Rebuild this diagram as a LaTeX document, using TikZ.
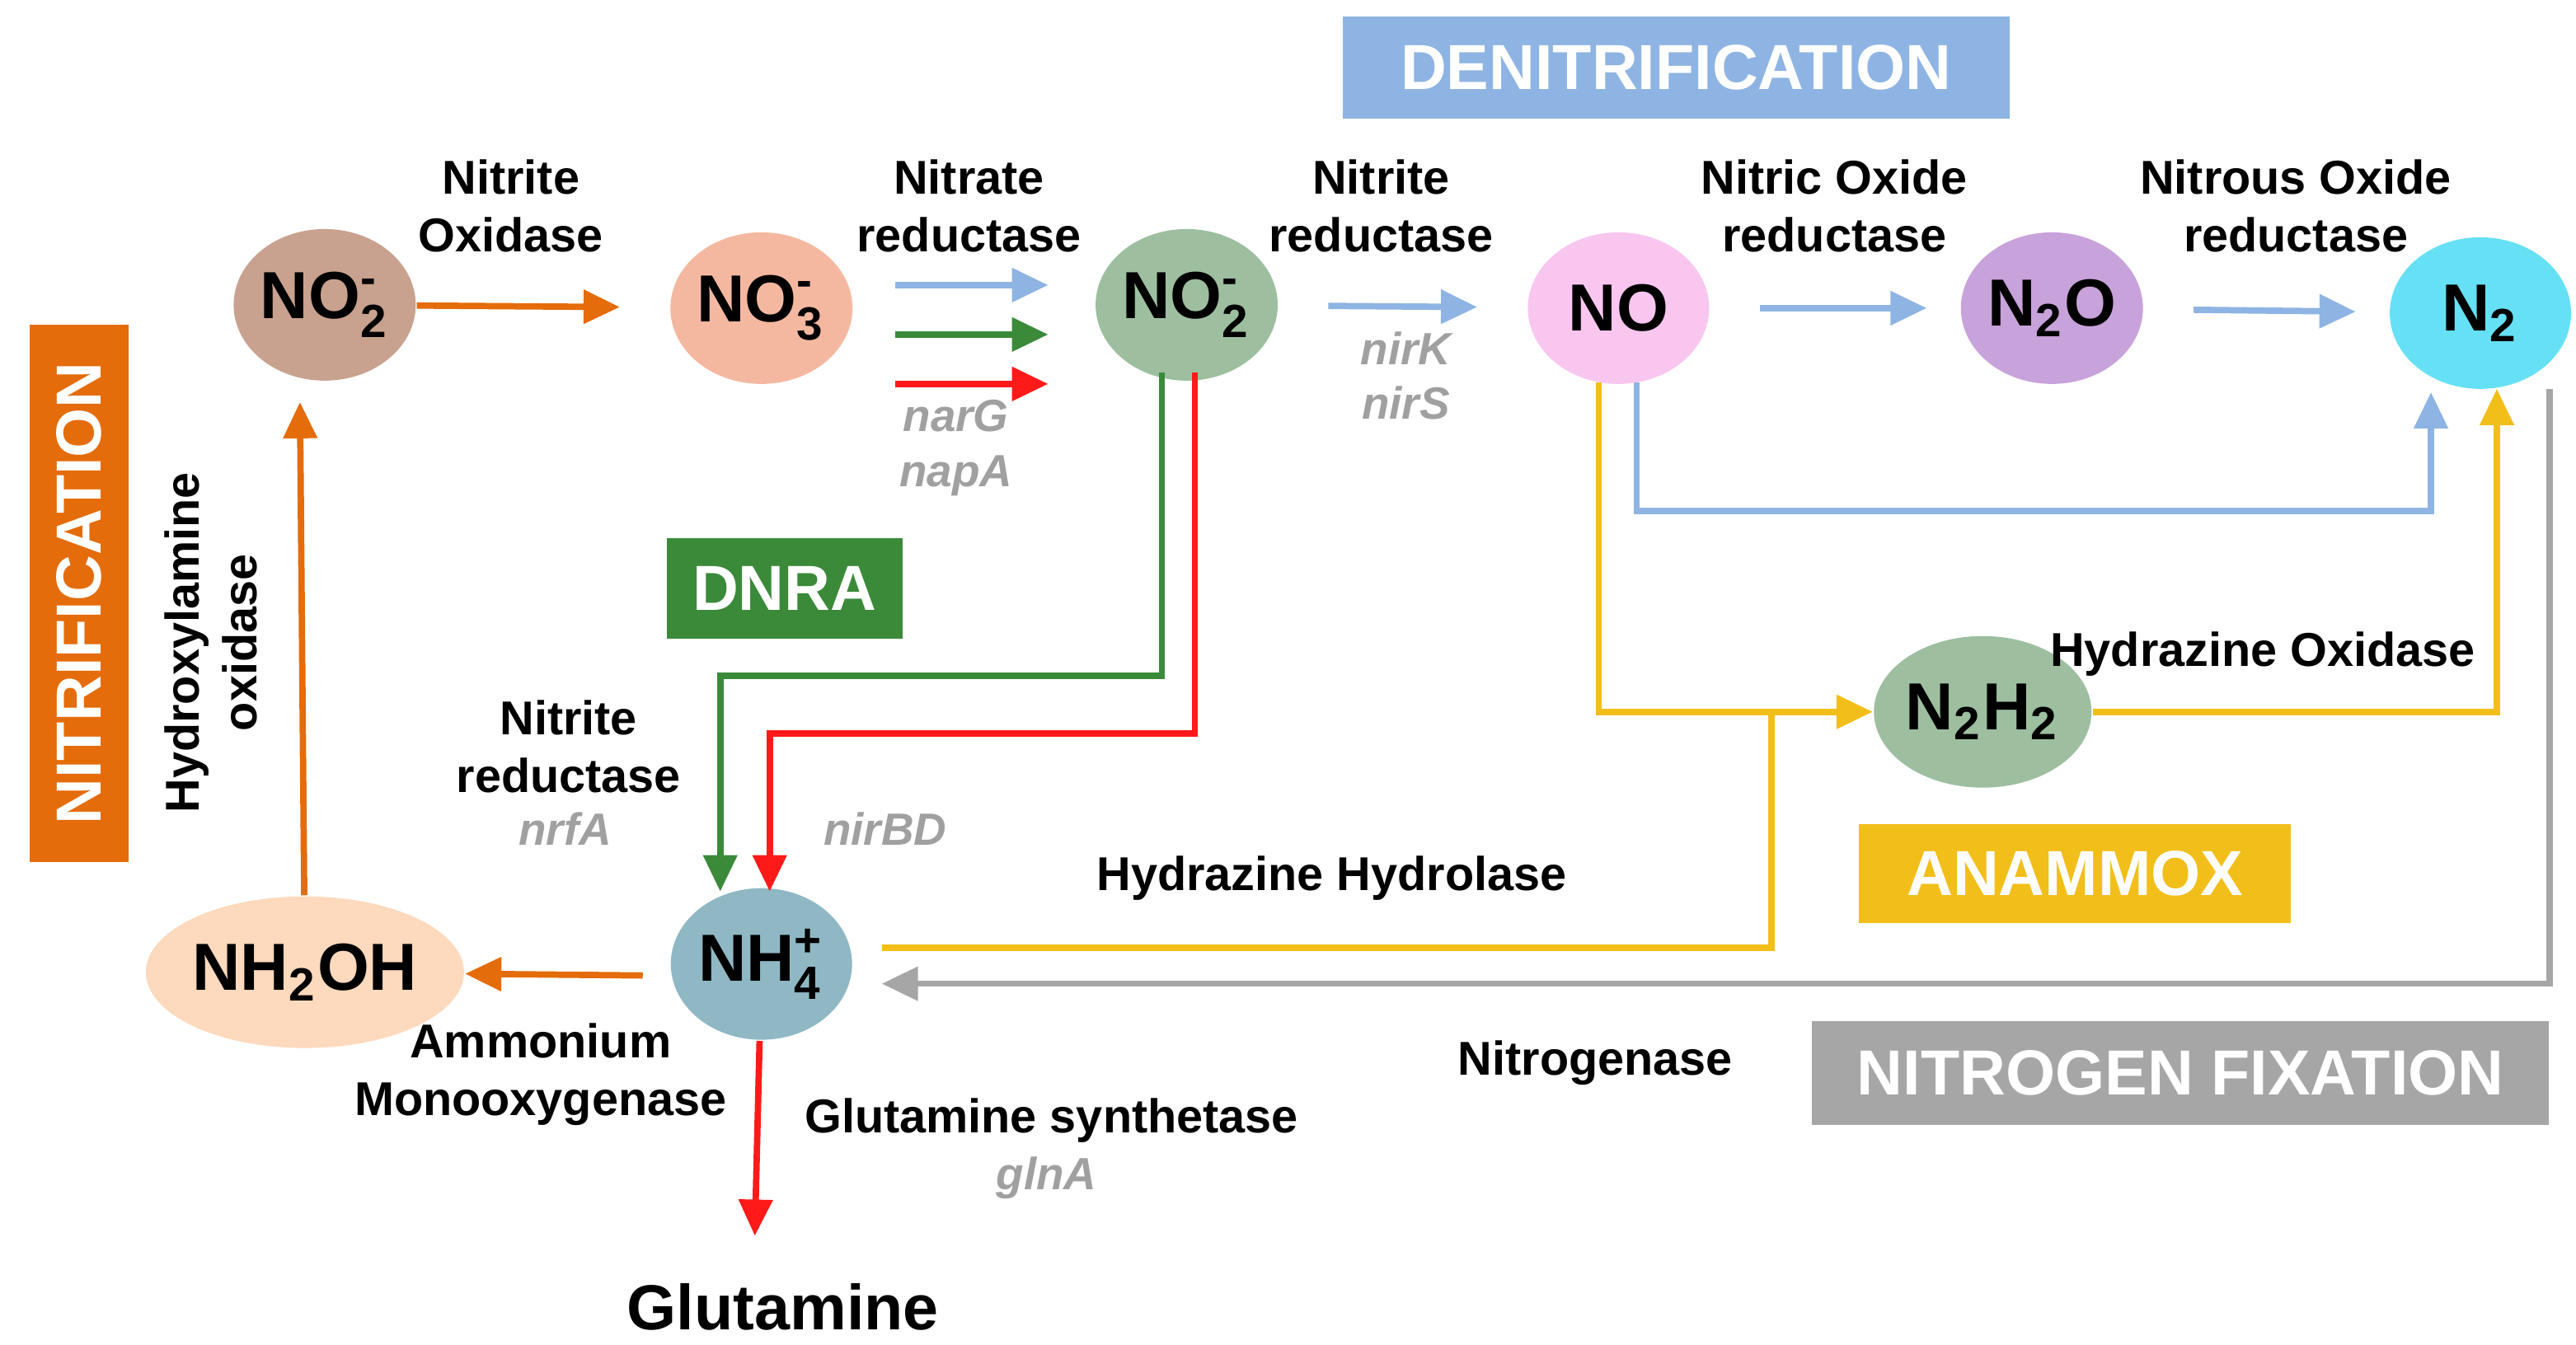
\documentclass[tikz,border=0pt]{standalone}
\usepackage{amsmath}
\usepackage{fontspec}
\setmainfont{Liberation Sans}
\setsansfont{Liberation Sans}
\usetikzlibrary{positioning,shapes.geometric,arrows.meta}
\definecolor{cOrange}{HTML}{E46C0A}
\definecolor{cBlue}{HTML}{8EB4E3}
\definecolor{cGreen}{HTML}{3A8A3A}
\definecolor{cRed}{HTML}{FF1A1A}
\definecolor{cYellow}{HTML}{F2BE1A}
\definecolor{cGrey}{HTML}{A6A6A6}
\definecolor{cLabel}{HTML}{A0A0A0}
\newcommand{\sbsp}[2]{\ensuremath{_{\textbf{#1}}^{\textbf{#2}}}}
\newcommand{\sbonly}[1]{\ensuremath{_{\textbf{#1}}}}
\begin{document}
\begin{tikzpicture}[x=0.1mm, y=-0.1mm,
     font=\sffamily\bfseries,
     mol/.style = {ellipse, minimum width=11mm, minimum height=9.2mm, inner sep=0pt, font=\sffamily\bfseries\fontsize{11.5}{12}\selectfont},
     box/.style = {rectangle, inner sep=0pt, text=white, font=\sffamily\bfseries\fontsize{11}{12}\selectfont},
     lab/.style = {align=center, font=\sffamily\bfseries\fontsize{8.2}{10}\selectfont},
     gene/.style = {align=center, text=cLabel, font=\sffamily\bfseries\itshape\fontsize{7.8}{9.5}\selectfont},
     arr/.style = {-{Triangle[length=2.2mm,width=2mm]}, line width=1.1pt}
                        ]
\useasboundingbox (0,0) rectangle (1563,816);
% molecules
\node (no2a) [mol, fill={rgb,255:red,201;green,161;blue,143}] at (197,185) {NO\sbsp{2}{-}};
\node (no3)  [mol, fill={rgb,255:red,244;green,184;blue,160}] at (462,187) {NO\sbsp{3}{-}};
\node (no2b) [mol, fill={rgb,255:red,157;green,191;blue,160}] at (720,185) {NO\sbsp{2}{-}};
\node (no)   [mol, fill={rgb,255:red,249;green,198;blue,240}] at (982,187) {NO};
\node (n2o)  [mol, fill={rgb,255:red,200;green,162;blue,218}] at (1245,187) {N\sbonly{2}O};
\node (n2)   [mol, fill={rgb,255:red,102;green,224;blue,245}] at (1505,190) {N\sbonly{2}};
\node (n2h2) [mol, fill={rgb,255:red,157;green,191;blue,160}] at (1203,432) {N\sbonly{2}H\sbonly{2}};
\node (nh4)  [mol, fill={rgb,255:red,143;green,184;blue,196}] at (462,585) {NH\sbsp{4}{+}};
\node (nh2oh)[mol, fill={rgb,255:red,253;green,217;blue,189}, minimum width=18mm] at (185,590) {NH\sbonly{2}OH};
\node (glut) [font=\sffamily\bfseries\fontsize{11}{12}\selectfont] at (475,793) {Glutamine};
% process boxes
\node (denit) [box, fill=cBlue, minimum width=40.5mm, minimum height=6.2mm] at (1017,41) {DENITRIFICATION};
\node (nitri) [box, fill=cOrange, minimum width=32.6mm, minimum height=6mm, rotate=90] at (48,360) {NITRIFICATION};
\node (dnra)  [box, fill=cGreen, minimum width=14.3mm, minimum height=6.1mm] at (476,357) {DNRA};
\node (anam)  [box, fill=cYellow, minimum width=26.2mm, minimum height=6mm] at (1259,530) {ANAMMOX};
\node (nfix)  [box, fill=cGrey, minimum width=44.7mm, minimum height=6.3mm] at (1323,651) {NITROGEN FIXATION};
% helper points
\coordinate (a1) at (543,173); \coordinate (b1) at (636,173);
\coordinate (a2) at (543,203); \coordinate (b2) at (636,203);
\coordinate (a3) at (543,233); \coordinate (b3) at (636,233);
% arrows
\draw[arr, cOrange, shorten >=3mm] (no2a) -- (no3);
\draw[arr, cBlue] (a1) -- (b1);
\draw[arr, cGreen] (a2) -- (b2);
\draw[arr, cRed] (a3) -- (b3);
\draw[arr, cBlue, shorten <=3mm, shorten >=3mm] (no2b) -- (no);
\draw[arr, cBlue, shorten <=3mm, shorten >=2mm] (no) -- (n2o);
\draw[arr, cBlue, shorten <=3mm, shorten >=2mm] (n2o) -- (n2);
\draw[arr, cBlue] (993,232) |- (1475,310) -- (1475,238);
\draw[arr, cYellow] (970,232) |- (n2h2);
\draw[arr, cYellow] (n2h2) -| (1515,236);
\draw[line width=1.1pt, cYellow] (535,575) -| (1075,432);
\draw[arr, cGrey] (1547,236) |- (535,597);
\draw[arr, cGreen] (705,226) |- (437,410) -- (437,541);
\draw[arr, cRed] (725,226) |- (467,445) -- (467,541);
\draw[arr, cRed] (nh4) -- (458,750);
\draw[arr, cOrange] (390,592) -- (nh2oh);
\draw[arr, cOrange] (nh2oh) -- (182,244);
% enzyme labels
\node[lab] at (310,125) {Nitrite\\Oxidase};
\node[lab] at (588,125) {Nitrate\\reductase};
\node[gene] at (580,272) {narG\\napA};
\node[lab] at (838,125) {Nitrite\\reductase};
\node[gene] at (853,228) {nirK\\nirS};
\node[lab] at (1113,125) {Nitric Oxide\\reductase};
\node[lab] at (1393,125) {Nitrous Oxide\\reductase};
\node[lab, rotate=90] at (128,390) {Hydroxylamine\\oxidase};
\node[lab] at (345,453) {Nitrite\\reductase};
\node[gene] at (343,503) {nrfA};
\node[gene] at (537,503) {nirBD};
\node[lab] at (808,533) {Hydrazine Hydrolase};
\node[lab] at (1373,397) {Hydrazine Oxidase};
\node[lab] at (328,652) {Ammonium\\Monooxygenase};
\node[lab] at (638,680) {Glutamine synthetase};
\node[gene] at (635,715) {glnA};
\node[lab] at (968,645) {Nitrogenase};
\end{tikzpicture}
\end{document}
